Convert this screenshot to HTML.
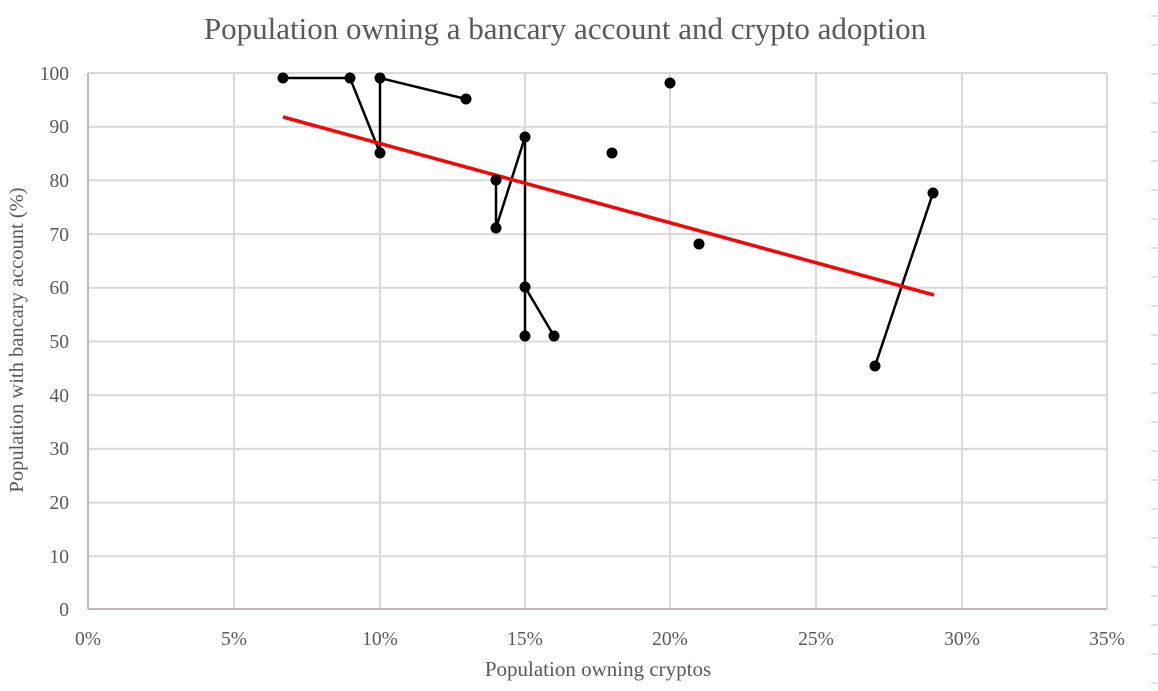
<!DOCTYPE html>
<html><head><meta charset="utf-8"><style>
html,body{margin:0;padding:0;background:#fff;}
svg{display:block;}
text{font-family:"Liberation Serif",serif;fill:#595959;}
</style></head><body>
<svg width="1158" height="691" viewBox="0 0 1158 691" xmlns="http://www.w3.org/2000/svg">
<rect width="1158" height="691" fill="#fff"/>
<text x="565" y="39" font-size="31" text-anchor="middle">Population owning a bancary account and crypto adoption</text>
<g stroke="#d9d9d9" stroke-width="2">
<line x1="88" y1="73" x2="1107" y2="73"/>
<line x1="88" y1="126.7" x2="1107" y2="126.7"/>
<line x1="88" y1="180.4" x2="1107" y2="180.4"/>
<line x1="88" y1="234.1" x2="1107" y2="234.1"/>
<line x1="88" y1="287.8" x2="1107" y2="287.8"/>
<line x1="88" y1="341.5" x2="1107" y2="341.5"/>
<line x1="88" y1="395.2" x2="1107" y2="395.2"/>
<line x1="88" y1="448.9" x2="1107" y2="448.9"/>
<line x1="88" y1="502.6" x2="1107" y2="502.6"/>
<line x1="88" y1="556.3" x2="1107" y2="556.3"/>
<line x1="234" y1="73" x2="234" y2="609"/>
<line x1="380" y1="73" x2="380" y2="609"/>
<line x1="525" y1="73" x2="525" y2="609"/>
<line x1="670" y1="73" x2="670" y2="609"/>
<line x1="816" y1="73" x2="816" y2="609"/>
<line x1="962" y1="73" x2="962" y2="609"/>
<line x1="1107" y1="73" x2="1107" y2="609"/>
</g>
<g stroke="#bfb9b9" stroke-width="2">
<line x1="88" y1="73" x2="88" y2="609"/>
<line x1="88" y1="609" x2="1107" y2="609"/>
</g>
<g stroke="#d9d9d9" stroke-width="1.5">
<line x1="1151" y1="16" x2="1158" y2="16"/><line x1="1151" y1="45" x2="1158" y2="45"/>
<line x1="1151" y1="74" x2="1158" y2="74"/><line x1="1151" y1="103" x2="1158" y2="103"/>
<line x1="1151" y1="132" x2="1158" y2="132"/><line x1="1151" y1="161" x2="1158" y2="161"/>
<line x1="1151" y1="190" x2="1158" y2="190"/><line x1="1151" y1="219" x2="1158" y2="219"/>
<line x1="1151" y1="248" x2="1158" y2="248"/><line x1="1151" y1="277" x2="1158" y2="277"/>
<line x1="1151" y1="306" x2="1158" y2="306"/><line x1="1151" y1="335" x2="1158" y2="335"/>
<line x1="1151" y1="364" x2="1158" y2="364"/><line x1="1151" y1="393" x2="1158" y2="393"/>
<line x1="1151" y1="422" x2="1158" y2="422"/><line x1="1151" y1="451" x2="1158" y2="451"/>
<line x1="1151" y1="480" x2="1158" y2="480"/><line x1="1151" y1="509" x2="1158" y2="509"/>
<line x1="1151" y1="538" x2="1158" y2="538"/><line x1="1151" y1="567" x2="1158" y2="567"/>
<line x1="1151" y1="596" x2="1158" y2="596"/><line x1="1151" y1="625" x2="1158" y2="625"/>
<line x1="1151" y1="654" x2="1158" y2="654"/><line x1="1151" y1="683" x2="1158" y2="683"/>
</g>
<g font-size="19.5" text-anchor="end">
<text x="69" y="80">100</text><text x="69" y="133">90</text><text x="69" y="187">80</text>
<text x="69" y="241">70</text><text x="69" y="294">60</text><text x="69" y="348">50</text>
<text x="69" y="402">40</text><text x="69" y="455">30</text><text x="69" y="509">20</text>
<text x="69" y="563">10</text><text x="69" y="616">0</text>
</g>
<g font-size="19.5" text-anchor="middle">
<text x="88" y="645">0%</text><text x="234" y="645">5%</text><text x="380" y="645">10%</text>
<text x="525" y="645">15%</text><text x="670" y="645">20%</text><text x="816" y="645">25%</text>
<text x="962" y="645">30%</text><text x="1107" y="645">35%</text>
</g>
<text x="598" y="676" font-size="21" text-anchor="middle">Population owning cryptos</text>
<text transform="translate(23,340) rotate(-90)" font-size="20.5" text-anchor="middle">Population with bancary account  (%)</text>
<g stroke="#000" stroke-width="2.5" fill="none">
<polyline points="283,78 350,78 380,153 380,78 466,99"/>
<polyline points="496,180 496,228 525,137 525,336"/>
<polyline points="525,287 554,336"/>
<polyline points="875,366 933,193"/>
</g>
<line x1="283" y1="117" x2="934" y2="295" stroke="#ff0000" stroke-width="3.5"/>
<g fill="#000">
<circle cx="283" cy="78" r="5.5"/><circle cx="350" cy="78" r="5.5"/><circle cx="380" cy="153" r="5.5"/>
<circle cx="380" cy="78" r="5.5"/><circle cx="466" cy="99" r="5.5"/><circle cx="496" cy="180" r="5.5"/>
<circle cx="496" cy="228" r="5.5"/><circle cx="525" cy="137" r="5.5"/><circle cx="525" cy="287" r="5.5"/>
<circle cx="525" cy="336" r="5.5"/><circle cx="554" cy="336" r="5.5"/><circle cx="612" cy="153" r="5.5"/>
<circle cx="670" cy="83" r="5.5"/><circle cx="699" cy="244" r="5.5"/><circle cx="875" cy="366" r="5.5"/>
<circle cx="933" cy="193" r="5.5"/>
</g>
</svg>
</body></html>
